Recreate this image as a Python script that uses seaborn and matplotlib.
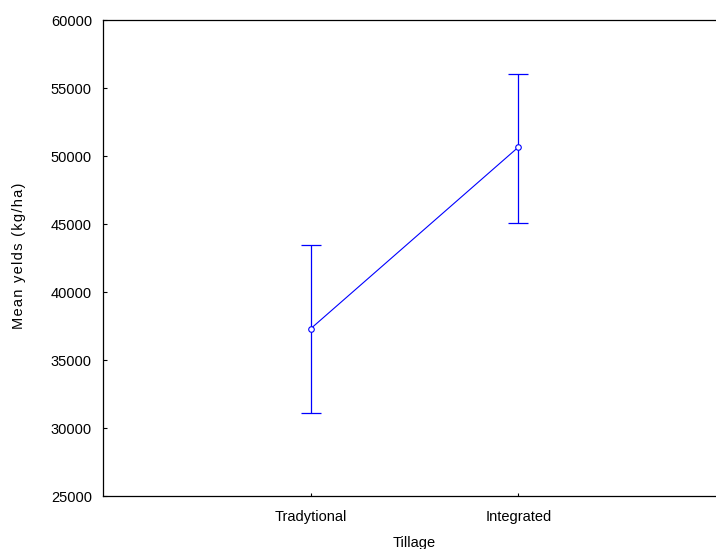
import matplotlib
matplotlib.use("Agg")
import matplotlib.pyplot as plt
import seaborn as sns
import pandas as pd

categories = ["Tradytional", "Integrated"]
means = [37300, 50650]
lower = [31100, 45100]
upper = [43450, 56000]
y_ticks = [25000, 30000, 35000, 40000, 45000, 50000, 55000, 60000]
x_title = "Tillage"
y_title = "Mean yelds (kg/ha)"

sns.set_style("white")
plt.rcParams["font.family"] = ["Liberation Sans", "DejaVu Sans"]
plt.rcParams["font.size"] = 10.5
plt.rcParams["text.color"] = "black"

df = pd.DataFrame({"Tillage": categories, "Mean": means})

fig = plt.figure(figsize=(7.16, 5.49), dpi=100)
ax = fig.add_axes([103 / 716, 53 / 549, 623 / 716, 476 / 549])

blue = "#0000FF"
sns.pointplot(data=df, x="Tillage", y="Mean", order=categories, errorbar=None,
              color=blue, markers="o", linewidth=0.8, markersize=4,
              markerfacecolor="white", markeredgecolor=blue, markeredgewidth=0.8,
              ax=ax, zorder=3)
pos = list(range(len(categories)))
yerr = [[m - l for m, l in zip(means, lower)], [u - m for m, u in zip(means, upper)]]
ax.errorbar(pos, means, yerr=yerr, fmt="none", ecolor=blue, elinewidth=0.9,
            capsize=7.4, capthick=0.9, zorder=2)

ax.set_xlim(-1, 2)
ax.set_ylim(25000, 60000)
ax.set_yticks(y_ticks)
ax.set_yticklabels([str(v) for v in y_ticks])
ax.tick_params(axis="both", direction="in", length=3, width=0.8, color="black",
               labelsize=10.5, labelcolor="black", left=True, bottom=True)
ax.tick_params(axis="y", pad=8)
ax.tick_params(axis="x", length=2, pad=10)
for s in ax.spines.values():
    s.set_color("black")
    s.set_linewidth(0.9)
    s.set_visible(True)
ax.spines["right"].set_visible(False)
ax.set_xlabel("")
ax.set_ylabel("")
fig.text(414 / 716, 1 - 543 / 549, x_title, ha="center", va="center",
         fontsize=10.5, color="black")
fig.text(19 / 716, 1 - 256 / 549, "\u200a".join(y_title), ha="center", va="center",
         rotation=90, fontsize=10.5, color="black")

fig.savefig("out.png", dpi=100)
